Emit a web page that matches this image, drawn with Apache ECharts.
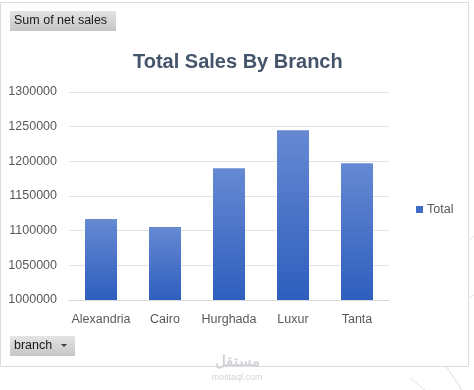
<!DOCTYPE html>
<html>
<head>
<meta charset="utf-8">
<script src="https://cdn.jsdelivr.net/npm/echarts@6/dist/echarts.min.js"></script>
<style>
html,body{margin:0;padding:0;background:#fff;}
#c{width:474px;height:390px;}
</style>
</head>
<body>
<div id="c"></div>
<script>
var categories = ['Alexandria', 'Cairo', 'Hurghada', 'Luxur', 'Tanta'];
var totals = [1116700, 1105200, 1190200, 1245000, 1197400];
var yTicks = [1000000, 1050000, 1100000, 1150000, 1200000, 1250000, 1300000];
var seriesName = 'Total';
var titleText = 'Total Sales By Branch';
var valueFieldLabel = 'Sum of net sales';
var axisFieldLabel = 'branch';

var FONT = '"Liberation Sans", Arial, sans-serif';
var chart = echarts.init(document.getElementById('c'), null, {renderer: 'canvas'});

function btn(x, y, w, h, label, arrow) {
  var children = [
    {type: 'rect', shape: {x: x, y: y, width: w, height: h},
     style: {fill: new echarts.graphic.LinearGradient(0, 0, 0, 1, [
       {offset: 0, color: '#e4e4e4'}, {offset: 1, color: '#c6c6c6'}])}},
    {type: 'text', style: {x: x + 4, y: y + h / 2, text: label, fill: '#1a1a1a',
      font: '12.5px ' + FONT, verticalAlign: 'middle'}}
  ];
  if (arrow) {
    children.push({type: 'polygon', shape: {points: [[x + w - 14, y + h / 2 - 2], [x + w - 8, y + h / 2 - 2], [x + w - 11, y + h / 2 + 1]]},
      style: {fill: '#3a3a3a'}});
  }
  return {type: 'group', children: children, silent: true};
}

var option = {
  backgroundColor: '#ffffff',
  animation: false,
  title: {
    text: titleText,
    left: 128, top: 47,
    textStyle: {fontFamily: FONT, fontSize: 20, fontWeight: 'bold', color: '#44546A'}
  },
  legend: {
    data: [seriesName],
    left: 411, top: 198,
    orient: 'vertical',
    itemWidth: 7, itemHeight: 7,
    icon: 'rect',
    itemStyle: {color: '#3F6CC6'},
    textStyle: {fontFamily: FONT, fontSize: 12.5, color: '#595959', padding: [0, 0, 0, -1]}
  },
  grid: {left: 69, right: 85, top: 92, bottom: 90, containLabel: false},
  xAxis: {
    type: 'category',
    data: categories,
    axisLine: {show: true, lineStyle: {color: '#d9d9d9', width: 1}},
    axisTick: {show: false},
    axisLabel: {fontFamily: FONT, fontSize: 12.5, color: '#595959', margin: 13, interval: 0}
  },
  yAxis: {
    type: 'value',
    min: yTicks[0], max: yTicks[yTicks.length - 1], interval: yTicks[1] - yTicks[0],
    axisLine: {show: false},
    axisTick: {show: false},
    splitLine: {lineStyle: {color: '#e3e3e3', width: 1}},
    axisLabel: {fontFamily: FONT, fontSize: 12.5, color: '#595959', margin: 12,
      formatter: function (v) { return String(v); }}
  },
  series: [{
    name: seriesName,
    type: 'bar',
    data: totals,
    barWidth: '50%',
    itemStyle: {
      color: new echarts.graphic.LinearGradient(0, 0, 0, 1, [
        {offset: 0, color: '#6689D2'}, {offset: 1, color: '#2E5EBE'}])
    }
  }],
  graphic: [
    {type: 'rect', shape: {x: 0.5, y: 2.5, width: 468, height: 364}, style: {fill: null, stroke: '#dcdce4', lineWidth: 1}, silent: true, z: -1},
    {type: 'line', shape: {x1: 470, y1: 240, x2: 474, y2: 236}, style: {stroke: '#e4e4ea', lineWidth: 1}, silent: true},
    {type: 'line', shape: {x1: 470, y1: 297, x2: 474, y2: 295}, style: {stroke: '#e4e4ea', lineWidth: 1}, silent: true},
    {type: 'line', shape: {x1: 446, y1: 366, x2: 462, y2: 390}, style: {stroke: '#dcdce4', lineWidth: 1}, silent: true},
    {type: 'line', shape: {x1: 410, y1: 378, x2: 425, y2: 390}, style: {stroke: '#e4e4ea', lineWidth: 1}, silent: true},
    {type: 'text', style: {x: 237, y: 362, text: 'مستقل', fill: '#d4d4d8', font: 'bold 15px "Noto Sans", sans-serif', align: 'center', verticalAlign: 'middle'}, silent: true},
    {type: 'text', style: {x: 237, y: 378, text: 'mostaql.com', fill: '#d4d4d8', font: '9px ' + FONT, align: 'center', verticalAlign: 'middle'}, silent: true},
    btn(10, 11, 106, 20, valueFieldLabel, false),
    btn(10, 336, 65, 20, axisFieldLabel, true)
  ]
};
chart.setOption(option);
</script>
</body>
</html>
